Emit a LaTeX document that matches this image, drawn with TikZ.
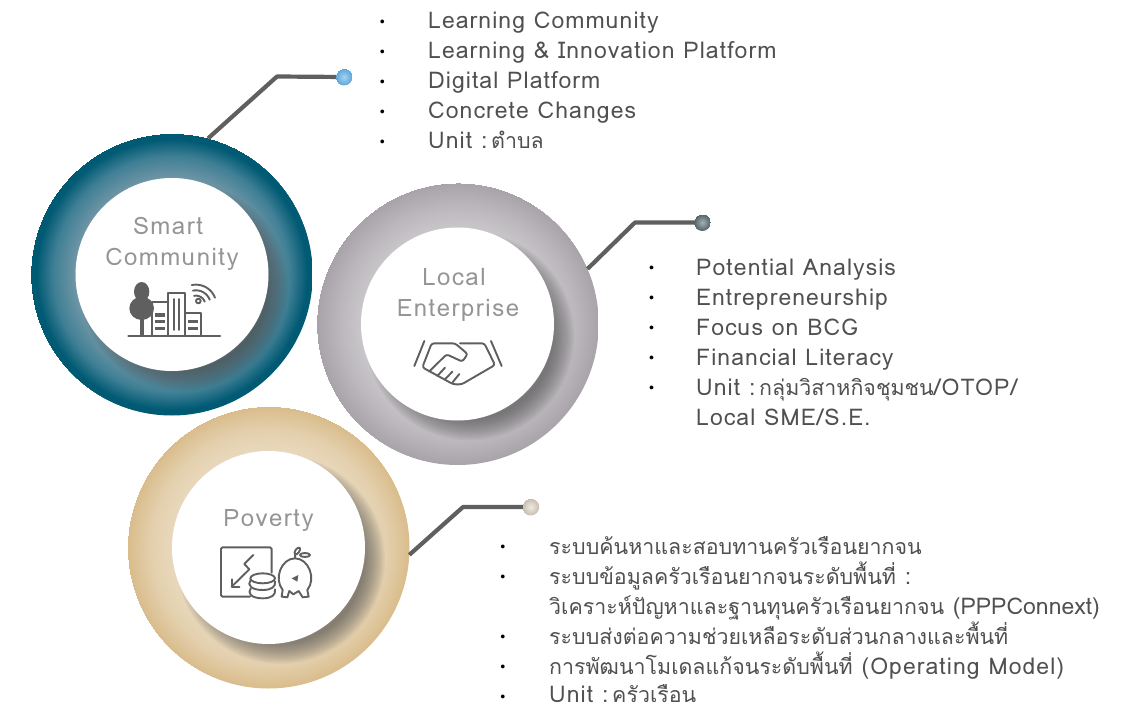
\documentclass[tikz,border=0pt]{standalone}
\usepackage{fontspec}
\setmainfont[LetterSpace=4.6]{Loma}
\newfontfamily\thf[Script=Thai,Scale=0.93]{Loma}
\newfontfamily\capf[LetterSpace=6.2]{Loma}
\newfontfamily\plainf{Loma}
\newcommand{\unitlead}{Unit :{\kern-8pt} }
\usetikzlibrary{calc}
\definecolor{iconc}{HTML}{5F5F5F}
\definecolor{linec}{HTML}{5F5F5F}
\definecolor{txtc}{HTML}{505050}
\definecolor{capc}{HTML}{959595}
\definecolor{HTMLa}{HTML}{6E95A5}
\definecolor{HTMLb}{HTML}{3F7F95}
\definecolor{HTMLc}{HTML}{005A73}
\definecolor{HTMLd}{HTML}{C9C6CA}
\definecolor{HTMLe}{HTML}{BAB6BB}
\definecolor{HTMLf}{HTML}{A8A3A9}
\definecolor{HTMLg}{HTML}{E8D8BC}
\definecolor{HTMLh}{HTML}{E3CFAC}
\definecolor{HTMLi}{HTML}{D9BC8B}
\definecolor{HTMLj}{HTML}{A5D3EE}
\definecolor{HTMLk}{HTML}{5BA5DA}
\definecolor{HTMLl}{HTML}{A3B0B0}
\definecolor{HTMLm}{HTML}{4F6269}
\definecolor{HTMLn}{HTML}{EFEAE2}
\definecolor{HTMLo}{HTML}{C6BDB0}
\pgfdeclareradialshading{tealring}{\pgfpointorigin}{color(0bp)=(white);color(16.5bp)=(white);color(17.2bp)=(HTMLa);color(21bp)=(HTMLb);color(24bp)=(HTMLc);color(25bp)=(HTMLc)}
\pgfdeclareradialshading{greyring}{\pgfpointorigin}{color(0bp)=(white);color(16.5bp)=(white);color(17.2bp)=(HTMLd);color(21bp)=(HTMLe);color(25bp)=(HTMLf)}
\pgfdeclareradialshading{tanring}{\pgfpointorigin}{color(0bp)=(white);color(16.5bp)=(white);color(17.2bp)=(HTMLg);color(21bp)=(HTMLh);color(25bp)=(HTMLi)}
\pgfdeclareradialshading{bluedot}{\pgfpointorigin}{color(0bp)=(HTMLj);color(25bp)=(HTMLk)}
\pgfdeclareradialshading{slatedot}{\pgfpointorigin}{color(0bp)=(HTMLl);color(25bp)=(HTMLm)}
\pgfdeclareradialshading{sanddot}{\pgfpointorigin}{color(0bp)=(HTMLn);color(25bp)=(HTMLo)}
\tikzset{
  ringnode/.style={circle,inner sep=0pt,outer sep=0pt,minimum size=282pt},
  corenode/.style={circle,inner sep=0pt,outer sep=0pt,minimum size=193pt,fill=white},
  dotnode/.style={circle,inner sep=0pt,outer sep=0pt,minimum size=17pt},
  leader/.style={draw=linec,line width=4.2pt,line join=round},
  captext/.style={anchor=base,text=capc,font=\capf\fontsize{24}{28}\selectfont,inner sep=0pt},
  lbl/.style={anchor=base west,text=txtc,font=\fontsize{23}{28}\selectfont,inner sep=0pt},
  bul/.style={anchor=center,text=black,font=\fontsize{11}{12}\selectfont,inner sep=0pt},
  icon/.style={draw=iconc,line width=1.9pt,line join=round,line cap=round},
  iconfill/.style={fill=iconc,draw=none},
}
\newcommand{\ringshadow}[2]{%
  \begin{scope}
    \clip (#1,#2) circle (141pt);
    \foreach \k in {0,...,17}{
      \fill[black!75,opacity=.042] (#1+12,#2+12) circle ({84pt+1.2pt*\k});
    }
  \end{scope}}
\begin{document}
\begin{tikzpicture}[x=1pt,y=-1pt]
\useasboundingbox (0,0) rectangle (1125,706);
% rings
\node[ringnode,shading=tealring] (ringA) at (171.7,274.5) {};
\node[ringnode,shading=greyring] (ringB) at (457.7,324) {};
\node[ringnode,shading=tanring] (ringC) at (268.5,547.5) {};
\ringshadow{171.7}{274.5}
\ringshadow{457.7}{324}
\ringshadow{268.5}{547.5}
\node[corenode] (coreA) at (172,274.5) {};
\node[corenode] (coreB) at (457.5,324) {};
\node[corenode] (coreC) at (268.5,547.5) {};
% connectors
\coordinate (bendA) at (277,76.5);
\coordinate (bendB) at (635,222.5);
\coordinate (bendC) at (463,507);
\coordinate (endA) at (344,77);
\coordinate (endB) at (702.3,222.5);
\coordinate (endC) at (530.7,507);
\draw[leader] (ringA.75.7) -- (bendA) -- (endA);
\draw[leader] (ringB.23.8) -- (bendB) -- (endB);
\draw[leader] (ringC.-3.7) -- (bendC) -- (endC);
\node[dotnode,shading=bluedot] (dotA) at (endA) {};
\node[dotnode,shading=slatedot] (dotB) at (endB) {};
\node[dotnode,shading=sanddot] (dotC) at (endC) {};
% captions
\node[captext] (capA1) at (168,234) {Smart};
\node[captext] (capA2) at (172,265) {Community};
\node[captext] (capB1) at (454,285) {Local};
\node[captext] (capB2) at (458,316.5) {Enterprise};
\node[captext] (capC1) at (268.5,526.5) {Poverty};
% list A
\node[bul] (bA1) at (382.5,22.5) {•};
\node[bul] (bA2) at (382.5,52.5) {•};
\node[bul] (bA3) at (382.5,82.5) {•};
\node[bul] (bA4) at (382.5,112.5) {•};
\node[bul] (bA5) at (382.5,142.5) {•};
\node[lbl] (tA1) at (428,29) {Learning Community};
\node[lbl] (tA2) at (428,59) {Learning \& Innovation Platform};
\node[lbl] (tA3) at (428,89) {Digital Platform};
\node[lbl] (tA4) at (428,119) {Concrete Changes};
\node[lbl] (tA5) at (428,149) {\unitlead{\thf ตำบล}};
% list B
\node[bul] (bB1) at (651.7,268.5) {•};
\node[bul] (bB2) at (651.7,298.5) {•};
\node[bul] (bB3) at (651.7,328.5) {•};
\node[bul] (bB4) at (651.7,358.5) {•};
\node[bul] (bB5) at (651.7,388.5) {•};
\node[lbl] (tB1) at (696,275) {Potential Analysis};
\node[lbl] (tB2) at (696,305) {Entrepreneurship};
\node[lbl] (tB3) at (696,335) {Focus on BCG};
\node[lbl] (tB4) at (696,365) {Financial Literacy};
\node[lbl] (tB5) at (696,395) {\unitlead{\thf กลุ่มวิสาหกิจชุมชน}/OTOP/};
\node[lbl] (tB6) at (696,425) {Local SME/S.E.};
% list C
\node[bul] (bC1) at (503,548) {•};
\node[bul] (bC2) at (503,578) {•};
\node[bul] (bC3) at (503,638) {•};
\node[bul] (bC4) at (503,668) {•};
\node[bul] (bC5) at (503,698) {•};
\node[lbl] (tC1) at (549,554) {\thf ระบบค้นหาและสอบทานครัวเรือนยากจน};
\node[lbl] (tC2) at (549,584) {{\thf ระบบข้อมูลครัวเรือนยากจนระดับพื้นที่} :};
\node[lbl] (tC3) at (549,614) {{\thf วิเคราะห์ปัญหาและฐานทุนครัวเรือนยากจน} {\plainf (PPPConnext)}};
\node[lbl] (tC4) at (549,644) {\thf ระบบส่งต่อความช่วยเหลือระดับส่วนกลางและพื้นที่};
\node[lbl] (tC5) at (549,674) {{\thf การพัฒนาโมเดลแก้จนระดับพื้นที่} (Operating Model)};
\node[lbl,text depth=0pt] (tC6) at (549,702) {\unitlead{\thf ครัวเรือน}};
% city icon
\begin{scope}[shift={(120,275)},x=.3333pt,y=-.3333pt]
  \draw[icon,line width=2.2pt] (25,183) -- (300,183);
  \draw[icon] (62,125) -- (62,183) (70,125) -- (70,183);
  \fill[iconfill] (65,50) ellipse [x radius=23,y radius=29];
  \fill[iconfill] (65,100) ellipse [x radius=37,y radius=35];
  \draw[icon] (97,183) -- (97,82) -- (145,82);
  \draw[icon] (145,183) -- (145,55) -- (195,55) -- (195,183);
  \draw[icon] (195,113) -- (243,113) -- (243,183);
  \draw[icon] (163,72) -- (163,165) (177,72) -- (177,165);
  \foreach \yy in {120,140,160}{\fill[iconfill] (105,\yy-5) rectangle (135,\yy+5);}
  \foreach \yy in {140,160}{\fill[iconfill] (205,\yy-5) rectangle (233,\yy+5);}
  \draw[icon] (235,78) circle [radius=7];
  \foreach \rr in {28,44,61}{
    \draw[icon,domain=21:102,samples=16] plot ({228+\rr*cos(\x)},{90-\rr*sin(\x)});
  }
\end{scope}
% handshake icon
\begin{scope}[shift={(405,330)},x=.3333pt,y=-.3333pt]
  \draw[icon] (58,33) -- (28,108) (258,33) -- (290,108);
  \draw[icon,rounded corners=2.5pt] (165,40) -- (238,40) -- (270,105) -- (170,163) -- (145,163) -- (52,112) -- (80,40) -- (150,40) -- (188,72) -- (172,95) -- (125,73) -- (72,125);
  \draw[icon] (97,138) -- (120,113) (120,148) -- (142,125) (142,158) -- (163,132);
\end{scope}
% poverty icon
\begin{scope}[shift={(210,540)},x=.3333pt,y=-.3333pt]
  \draw[icon,rounded corners=1.5pt] (120,170) -- (33,170) -- (33,22) -- (185,22) -- (185,98);
  \draw[icon] (130,45) -- (103,72) -- (118,88) -- (65,140);
  \draw[icon] (65,118) -- (65,140) -- (88,140);
  \draw[icon] (158,115) ellipse [x radius=37,y radius=15];
  \draw[icon] (121,122) .. controls (112,134) and (122,150) .. (158,150) .. controls (185,150) and (198,140) .. (195,124);
  \draw[icon] (122,146) .. controls (112,158) and (122,175) .. (158,175) .. controls (185,175) and (198,165) .. (195,148);
  \draw[icon] (218,150) .. controls (190,115) and (215,55) .. (255,55) .. controls (295,55) and (320,115) .. (292,150) -- (296,170) -- (278,172) -- (266,153) -- (250,163) -- (238,153) -- (232,172) -- (215,170) -- cycle;
  \draw[icon] (255,55) -- (256,40);
  \draw[icon,rotate around={55:(262,33)}] (262,33) ellipse [x radius=12,y radius=6];
  \draw[icon] (285,45) ellipse [x radius=15,y radius=6];
  \fill[iconfill] (245,115) -- (265,105) -- (262,125) -- cycle;
\end{scope}
\end{tikzpicture}
\end{document}
